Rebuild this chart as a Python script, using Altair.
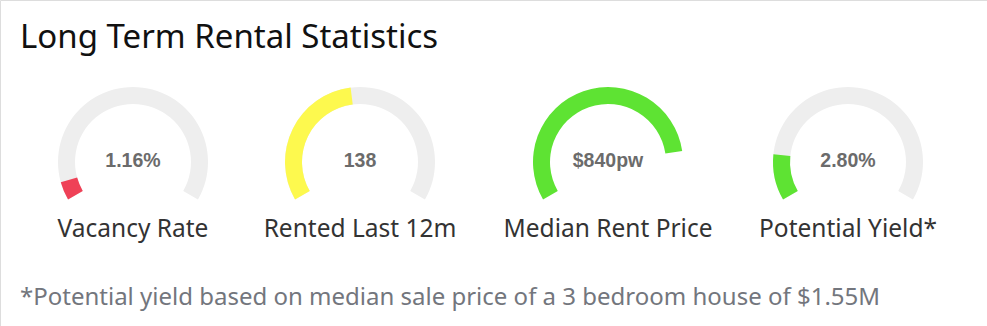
import altair as alt
import pandas as pd

# ---- data ----
labels = ["Vacancy Rate", "Rented Last 12m", "Median Rent Price", "Potential Yield*"]
value_texts = ["1.16%", "138", "$840pw", "2.80%"]
fractions = [0.06, 0.47, 0.84, 0.15]   # filled share of each gauge
colors = ["#ef4157", "#fdf94e", "#5ee333", "#5ee333"]
track_color = "#eeeeee"
title_text = ["Long Term Rental Statistics"]
footnote_text = ["*Potential yield based on median sale price of a 3 bedroom house of $1.55M"]

n = len(labels)
df = pd.DataFrame({
    "idx": list(range(n)),
    "label": labels,
    "value": value_texts,
    "frac": fractions,
})

W, H = 987, 326
CY = 162
x_enc = alt.X("idx:Q", scale=alt.Scale(domain=[0, 1, 2, 3], range=[133, 360, 608, 848]), axis=None)
theta_scale = alt.Scale(domain=[0, 1], range=[-2.0944, 2.0944])

base = alt.Chart(df)

track = base.mark_arc(radius=75, radius2=58, color=track_color).transform_calculate(
    lo="0", hi="1"
).encode(
    x=x_enc,
    y=alt.value(CY),
    theta=alt.Theta("lo:Q", scale=theta_scale, stack=False),
    theta2="hi:Q",
)

fills = []
for i in range(n):
    fills.append(
        base.transform_filter(alt.datum.idx == i).transform_calculate(lo="0")
        .mark_arc(radius=75, radius2=58, color=colors[i])
        .encode(
            x=x_enc,
            y=alt.value(CY),
            theta=alt.Theta("lo:Q", scale=theta_scale, stack=False),
            theta2="frac:Q",
        )
    )

vals = base.mark_text(
    font="Liberation Sans", fontWeight="bold", fontSize=19.5, color="#6b6b6b",
    align="center", baseline="alphabetic",
).encode(x=x_enc, y=alt.value(166.5), text="value:N")

labs = base.mark_text(
    font="Noto Sans", fontSize=24.5, color="#333333",
    align="center", baseline="alphabetic",
).encode(x=x_enc, y=alt.value(236.5), text="label:N")

title = alt.Chart(pd.DataFrame({"t": title_text})).mark_text(
    font="Noto Sans", fontSize=33, color="#111111", align="left", baseline="alphabetic",
).encode(x=alt.value(20), y=alt.value(48), text="t:N")

foot = alt.Chart(pd.DataFrame({"t": footnote_text})).mark_text(
    font="Noto Sans", fontSize=24, color="#73767d", align="left", baseline="alphabetic",
).encode(x=alt.value(20), y=alt.value(305), text="t:N")

chart = alt.layer(track, *fills, vals, labs, title, foot).properties(
    width=W, height=H, padding=0, autosize=alt.AutoSizeParams(type="none"),
).configure_view(stroke=None).configure(background="white")

chart.save("out.html", embed_options={"renderer": "svg", "actions": False})
